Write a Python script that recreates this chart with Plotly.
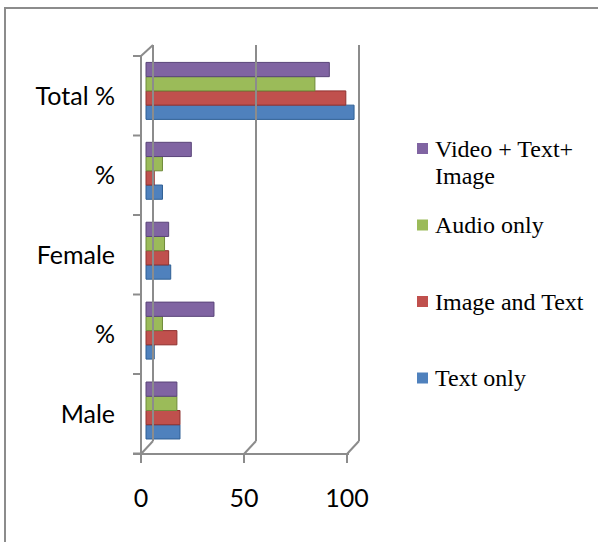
import plotly.graph_objects as go

# ---------------- data ----------------
CATEGORIES = ["Male", "%", "Female", "%", "Total %"]
SERIES_NAMES = ["Text only", "Image and Text", "Audio only", "Video + Text+<br>Image"]
TEXT_ONLY = [16.5, 4, 12, 8, 101]
IMAGE_AND_TEXT = [16.5, 15, 11, 4, 97]
AUDIO_ONLY = [15, 8, 9, 8, 82]
VIDEO_TEXT_IMAGE = [15, 33, 11, 22, 89]
X_TICKS = [0, 50, 100]

COLORS = ["#4F81BD", "#C0504D", "#9BBB59", "#8064A2"]
EDGE = ["#2f5f94", "#8e3230", "#6f8a3a", "#5a4579"]

# ---------------- geometry (pixels) ----------------
W, H = 598, 542
L, R, T, B = 130, 370, 44, 454          # plot area
FRONT_X0 = 141                           # front value-axis zero
PXU = 2.06                               # pixels per unit
BAR_X0 = 146                             # bar base (mid depth)
DX, DY = 12, 13                          # depth offset of back wall
CAT_FRONT0, CAT_STEP = 453.5, 79.5       # front category boundaries
BAR_C0, BAR_STEP = 410.5, 79.9           # bar group centres
LEG_X, LEG_Y0, LEG_STEP, LEG_SQ, LEG_LINE = 417, 148.5, 76.5, 11, 28


def px(x):
    return (x - L) / (R - L)


def py(y):
    return (B - y) / (B - T)


fig = go.Figure()
for name, vals, col, edge in zip(
        SERIES_NAMES, [TEXT_ONLY, IMAGE_AND_TEXT, AUDIO_ONLY, VIDEO_TEXT_IMAGE],
        COLORS, EDGE):
    fig.add_trace(go.Bar(
        y=list(range(len(CATEGORIES))), x=vals, orientation="h",
        name=name.replace("<br>", " "), showlegend=False,
        marker=dict(color=col, line=dict(color=edge, width=1)),
    ))

# ---------------- 3D-like frame ----------------
shapes = []
line = dict(color="#8c8c8c", width=2)


def seg(x0, y0, x1, y1):
    shapes.append(dict(type="line", xref="paper", yref="paper",
                       x0=px(x0), y0=py(y0), x1=px(x1), y1=py(y1), line=line))


front_y = CAT_FRONT0 + 0.5
top_front = CAT_FRONT0 - CAT_STEP * len(CATEGORIES)
for v in X_TICKS:
    fx = FRONT_X0 + v * PXU
    bx = fx + DX
    seg(bx, top_front - DY + 2, bx, front_y - DY)
    seg(bx, front_y - DY, fx, front_y)
    seg(fx, front_y, fx, front_y + 9)
seg(FRONT_X0 - 8, front_y, FRONT_X0 + 100 * PXU + 2, front_y)
seg(FRONT_X0, top_front, FRONT_X0, front_y)
seg(FRONT_X0, top_front, FRONT_X0 + DX, top_front - DY + 2)
for k in range(len(CATEGORIES) + 1):
    yk = CAT_FRONT0 - k * CAT_STEP
    seg(FRONT_X0 - 8, yk, FRONT_X0, yk)

shapes.append(dict(type="rect", xref="paper", yref="paper",
                   x0=px(5), y0=py(8), x1=px(W + 10), y1=py(H + 10),
                   line=dict(color="#8c8c8c", width=2)))

# ---------------- legend (Excel style: evenly spaced, reversed) ----------------
annotations = []
for j, idx in enumerate(reversed(range(len(SERIES_NAMES)))):
    cy = LEG_Y0 + j * LEG_STEP
    shapes.append(dict(type="rect", xref="paper", yref="paper",
                       x0=px(LEG_X), x1=px(LEG_X + LEG_SQ),
                       y0=py(cy - LEG_SQ / 2), y1=py(cy + LEG_SQ / 2),
                       fillcolor=COLORS[idx], line=dict(width=0)))
    for li, text_line in enumerate(SERIES_NAMES[idx].split("<br>")):
        annotations.append(dict(
            xref="paper", yref="paper", x=px(LEG_X + LEG_SQ + 5),
            y=py(cy + li * LEG_LINE), xanchor="left", yanchor="middle",
            align="left", text=text_line, showarrow=False,
            font=dict(family="Liberation Serif", size=24, color="black")))

# tick positions expressed in the bar axes' coordinates
x_tickpos = [v - (BAR_X0 - FRONT_X0) / PXU for v in X_TICKS]
y_tickpos = [(BAR_C0 - (CAT_FRONT0 - (i + 0.5) * CAT_STEP)) / BAR_STEP
             for i in range(len(CATEGORIES))]

fig.update_layout(
    width=W, height=H,
    margin=dict(l=L, r=W - R, t=T, b=H - B, autoexpand=False),
    paper_bgcolor="white", plot_bgcolor="rgba(0,0,0,0)",
    barmode="group", bargap=0.287, bargroupgap=0,
    shapes=shapes, annotations=annotations,
    xaxis=dict(range=[(L - BAR_X0) / PXU, (R - BAR_X0) / PXU],
               tickmode="array", tickvals=x_tickpos,
               ticktext=[str(v) for v in X_TICKS],
               showgrid=False, zeroline=False, showline=False, ticks="",
               ticklabelstandoff=27, automargin=False,
               tickfont=dict(family="Lato", size=25, color="black")),
    yaxis=dict(range=[(BAR_C0 - B) / BAR_STEP, (BAR_C0 - T) / BAR_STEP],
               tickmode="array", tickvals=y_tickpos, ticktext=CATEGORIES,
               ticks="", showgrid=False, zeroline=False, showline=False,
               ticklabelstandoff=14, automargin=False,
               tickfont=dict(family="Lato", size=25, color="black")),
    showlegend=False,
)

fig.write_html("out.html")
